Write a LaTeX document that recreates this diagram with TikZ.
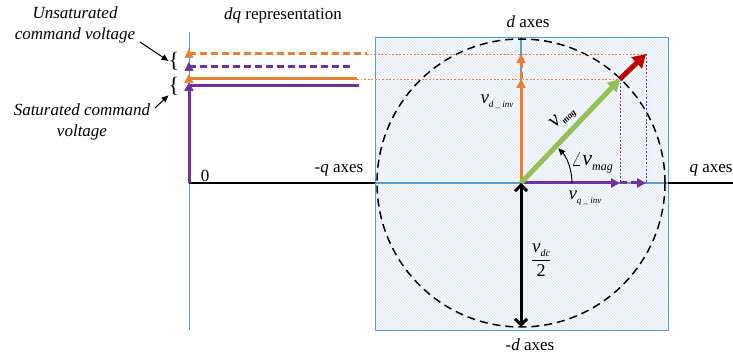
\documentclass[tikz,border=0pt]{standalone}
\usepackage{fontspec}
\setmainfont{Liberation Serif}
\usetikzlibrary{arrows.meta,patterns}
\definecolor{cor}{RGB}{237,125,49}
\definecolor{cpu}{RGB}{112,48,160}
\definecolor{cgr}{RGB}{150,192,85}
\definecolor{cre}{RGB}{192,0,0}
\definecolor{cbl}{RGB}{91,155,213}
\begin{document}
\begin{tikzpicture}[x=1pt,y=1pt,
  lbl/.style={font=\fontsize{17}{20}\selectfont, inner sep=0pt},
  ilbl/.style={font=\fontsize{17}{21}\selectfont\itshape, inner sep=0pt, align=center},
  tip/.style={-{Triangle[length=9pt,width=9pt]}},
  thk/.style={line width=3pt},
  dsh/.style={dash pattern=on 7pt off 4pt},
  dot/.style={line width=0.9pt, dash pattern=on 1.8pt off 1.8pt}]
\useasboundingbox (0,0) rectangle (733,358);
% key points
\coordinate (O) at (521,175);
\coordinate (BL) at (375,28);
\coordinate (TR) at (668,321);
\coordinate (A) at (620,279);
\coordinate (B) at (646,304);
\coordinate (Aq) at (620,175);
\coordinate (Bq) at (646,175);
\coordinate (Ad) at (521,279);
\coordinate (Bd) at (521,304);
\coordinate (Dn) at (521,31);
\coordinate (L0) at (189,175);
\coordinate (Lt) at (189,326);
\coordinate (Lb) at (189,28);
\coordinate (Xe) at (733,175);
% box
\fill[blue!2] (BL) rectangle (TR);
\fill[pattern=north west lines, pattern color=cbl!25] (BL) rectangle (TR);
\draw[cbl, line width=0.9pt] (BL) rectangle (TR);
% axes
\draw[cbl, line width=1pt] (Lb) -- (Lt);
\draw[black, line width=1.1pt] (L0) -- (Xe);
\draw[cbl, line width=1.1pt] (375,175) -- (668,175);
\draw[cbl, line width=1.1pt] (O) -- (521,321);
% circle
\draw[line width=1.5pt, dash pattern=on 8pt off 5pt] (O) circle (144);
% dotted guides
\draw[cor, dot] (367,304) -- (B);
\draw[cor, dot] (357,279) -- (A);
\draw[cpu, dot] (A) -- (Aq);
\draw[cpu, dot] (B) -- (Bq);
% left lines
\draw[cor, thk, dsh] (189,304) -- (367,304);
\draw[cpu, thk, dsh] (189,291) -- (352,291);
\draw[cor, thk] (189,279) -- (357,279);
\draw[cpu, thk] (189,272) -- (359,272);
\draw[cpu, thk, tip] (L0) -- (189,276);
\draw[cor, line width=0.5pt, tip] (189,276) -- (189,284);
\draw[cpu, line width=0.5pt, tip] (189,288) -- (189,296);
\draw[cor, line width=0.5pt, tip] (189,301) -- (189,309);
% vectors
\draw[cor, thk, tip] (O) -- (Ad);
\draw[cor, thk, dsh, tip] (Ad) -- (Bd);
\draw[cpu, thk, tip] (O) -- (Aq);
\draw[cpu, thk, dsh, tip] (Aq) -- (Bq);
\draw[cgr, line width=5pt, -{Triangle[length=12pt,width=13pt]}] (O) -- (A);
\draw[cre, line width=5pt, -{Triangle[length=13pt,width=15pt]}] (A) -- (B);
\draw[black, thk, {Straight Barb[length=6pt,width=12pt]}-{Straight Barb[length=6pt,width=12pt]}] (O) -- (Dn);
% angle arc
\draw[line width=1pt, -{Triangle[length=7pt,width=6pt]}] (572,175) arc[start angle=0, end angle=43, radius=51];
% labels
\node[lbl] (t1) at (283,343) {\textit{dq} representation};
\node[ilbl] (t2) at (75,333) {Unsaturated\\command voltage};
\node[ilbl] (t3) at (82,236) {Saturated command\\voltage};
\node[font=\fontsize{22}{22}\selectfont, inner sep=0pt] (br1) at (174,297) {\{};
\node[font=\fontsize{22}{22}\selectfont, inner sep=0pt] (br2) at (174,272) {\{};
\coordinate (a1s) at (140,316);
\coordinate (a2s) at (155,250);
\draw[line width=1pt, -{Triangle[length=7pt,width=6pt]}] (a1s) -- (br1.west);
\draw[line width=1pt, -{Triangle[length=7pt,width=6pt]}] (a2s) -- (br2.south west);
\node[lbl] (zero) at (205,182) {0};
\node[lbl] (mq) at (339,188) {-\textit{q} axes};
\node[lbl] (qa) at (711,188) {\textit{q} axes};
\node[lbl] (da) at (528,336) {\textit{d} axes};
\node[lbl] (mda) at (530,13) {-\textit{d} axes};
\node[lbl] (vd) at (497,256) {\fontsize{19}{19}\selectfont\textit{v}\raisebox{-0.5ex}{\fontsize{9}{9}\selectfont\textit{d \_ inv}}};
\node[lbl, rotate=45] (vm) at (563,240) {\fontsize{22}{22}\selectfont\textit{v}\raisebox{-0.4ex}{\fontsize{9}{9}\selectfont\bfseries\textit{mag}}};
\node[lbl] (am) at (592,195) {\fontsize{22}{22}\selectfont$\angle$\textit{v}\raisebox{-0.5ex}{\fontsize{12}{12}\selectfont\textit{mag}}};
\node[lbl] (vq) at (585,160) {\fontsize{19}{19}\selectfont\textit{v}\raisebox{-0.5ex}{\fontsize{9}{9}\selectfont\textit{q \_ inv}}};
\node[lbl] (vdc) at (541,98) {$\displaystyle\frac{\mbox{\fontsize{19}{19}\selectfont\textit{v}\raisebox{-0.5ex}{\fontsize{10}{10}\selectfont\textit{dc}}}}{\mbox{\fontsize{18}{18}\selectfont 2}}$};
\end{tikzpicture}
\end{document}
